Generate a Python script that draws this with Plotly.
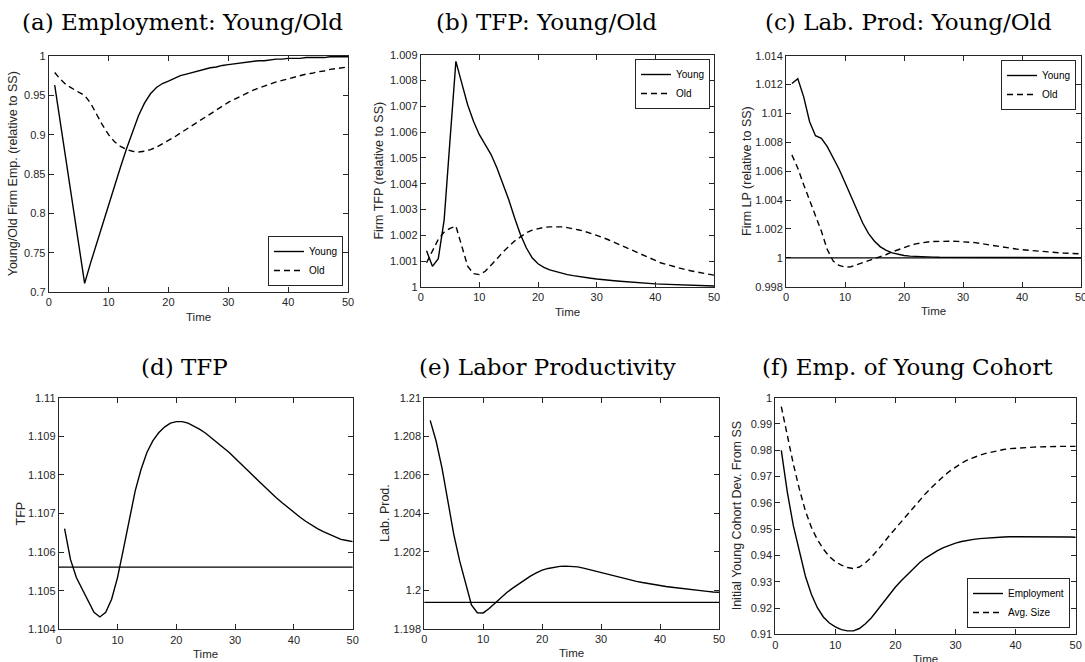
import plotly.graph_objects as go

# ---------------- data ----------------
t = list(range(1, 51))

# (a) Employment: Young/Old
emp_young = [0.963, 0.913, 0.862, 0.812, 0.761, 0.711, 0.737, 0.762, 0.787, 0.811,
             0.835, 0.859, 0.882, 0.904, 0.924, 0.940, 0.952, 0.960, 0.965, 0.968,
             0.972, 0.975, 0.977, 0.979, 0.981, 0.983, 0.985, 0.986, 0.988, 0.989,
             0.990, 0.991, 0.992, 0.993, 0.994, 0.994, 0.995, 0.996, 0.996, 0.997,
             0.997, 0.997, 0.998, 0.998, 0.998, 0.998, 0.999, 0.999, 0.999, 0.999]
emp_old = [0.979, 0.970, 0.963, 0.958, 0.954, 0.950, 0.940, 0.926, 0.912, 0.900,
           0.891, 0.885, 0.881, 0.879, 0.878, 0.879, 0.881, 0.884, 0.888, 0.892,
           0.897, 0.902, 0.907, 0.912, 0.917, 0.922, 0.927, 0.932, 0.937, 0.941,
           0.945, 0.949, 0.953, 0.956, 0.959, 0.962, 0.965, 0.967, 0.969, 0.971,
           0.973, 0.975, 0.977, 0.978, 0.980, 0.981, 0.983, 0.984, 0.985, 0.986]

# (b) TFP: Young/Old
tfp_young = [1.0014, 1.0008, 1.0011, 1.0026, 1.0057, 1.00874, 1.0079, 1.00706, 1.00642, 1.0059,
             1.00552, 1.00513, 1.00461, 1.00403, 1.00339, 1.00268, 1.00203, 1.00152, 1.00113, 1.0009,
             1.00076, 1.00066, 1.00059, 1.00053, 1.00048, 1.00044, 1.0004, 1.00037, 1.00034, 1.00031,
             1.00028, 1.00026, 1.00024, 1.00022, 1.0002, 1.00018, 1.00016, 1.00014, 1.00013, 1.00012,
             1.00011, 1.0001, 1.00009, 1.00008, 1.00007, 1.00006, 1.00005, 1.00005, 1.00004, 1.00004]
tfp_old = [1.00094, 1.0014, 1.00185, 1.00213, 1.00227, 1.00236, 1.00158, 1.00081, 1.00052, 1.00048,
           1.00061, 1.00083, 1.00109, 1.00135, 1.00158, 1.00178, 1.00194, 1.0021, 1.0022, 1.00227,
           1.00231, 1.00233, 1.00234, 1.00233, 1.0023, 1.00226, 1.00221, 1.00215, 1.00208, 1.002,
           1.00192, 1.00183, 1.00173, 1.00163, 1.00152, 1.00141, 1.00131, 1.0012, 1.0011, 1.001,
           1.00093, 1.00087, 1.0008, 1.00074, 1.00068, 1.00063, 1.00058, 1.00054, 1.0005, 1.00046]

# (c) Lab. Prod: Young/Old
lp_young = [1.01207, 1.01241, 1.01115, 1.00943, 1.00846, 1.00828, 1.0077, 1.00697, 1.00614, 1.00522,
            1.00425, 1.00329, 1.00241, 1.00168, 1.00115, 1.00076, 1.00051, 1.00034, 1.00023, 1.00016,
            1.00012, 1.00009, 1.00007, 1.00006, 1.00005, 1.00004, 1.00004, 1.00003, 1.00003, 1.00002,
            1.00002, 1.00002, 1.00002, 1.00002, 1.00002, 1.00001, 1.00001, 1.00001, 1.00001, 1.00001,
            1.00001, 1.00001, 1.00001, 1.00001, 1.00001, 1.00001, 1.00001, 1.00001, 1.00001, 1.00001]
lp_old = [1.00713, 1.00621, 1.00506, 1.00402, 1.00287, 1.00184, 1.00057, 0.99977, 0.99947, 0.99936,
          0.99938, 0.99952, 0.99966, 0.99979, 0.99993, 1.00007, 1.00023, 1.00041, 1.00057, 1.00071,
          1.00085, 1.00097, 1.00105, 1.0011, 1.00113, 1.00115, 1.00116, 1.00115, 1.00114, 1.00112,
          1.00109, 1.00105, 1.00099, 1.00092, 1.00085, 1.00079, 1.00073, 1.00067, 1.00061, 1.00056,
          1.00052, 1.00048, 1.00045, 1.00042, 1.00039, 1.00036, 1.00033, 1.00031, 1.00029, 1.00027]
lp_ss = 1.0

# (d) TFP
tfp = [1.10661, 1.10581, 1.10534, 1.10504, 1.10474, 1.10444, 1.10432, 1.10444, 1.10478, 1.10534,
       1.10607, 1.10685, 1.10758, 1.10814, 1.10858, 1.10888, 1.10909, 1.10924, 1.10934, 1.10938,
       1.10938, 1.10934, 1.10927, 1.10918, 1.10908, 1.10896, 1.10883, 1.1087, 1.10858, 1.10843,
       1.10829, 1.10814, 1.10799, 1.10784, 1.10769, 1.10754, 1.10741, 1.10728, 1.10715, 1.10702,
       1.10691, 1.1068, 1.1067, 1.10661, 1.10653, 1.10646, 1.10639, 1.10633, 1.1063, 1.10627]
tfp_ss = 1.10561

# (e) Labor Productivity
labprod = [1.20882, 1.20775, 1.20636, 1.20463, 1.2029, 1.20152, 1.20031, 1.19923, 1.19883, 1.19882,
           1.19905, 1.19934, 1.19962, 1.19988, 1.20011, 1.20033, 1.20054, 1.20073, 1.2009, 1.20104,
           1.20113, 1.2012, 1.20124, 1.20125, 1.20124, 1.20121, 1.20115, 1.20107, 1.201, 1.20093,
           1.20085, 1.20076, 1.20068, 1.2006, 1.20052, 1.20046, 1.2004, 1.20034, 1.20029, 1.20024,
           1.20019, 1.20015, 1.20011, 1.20007, 1.20003, 1.2, 1.19997, 1.19994, 1.19991, 1.19989]
labprod_ss = 1.19937

# (f) Emp. of Young Cohort
cohort_emp = [0.9800, 0.9641, 0.9513, 0.9411, 0.9322, 0.9252, 0.9201, 0.9166, 0.9143, 0.9128,
              0.9118, 0.9113, 0.9113, 0.9122, 0.9140, 0.9163, 0.9192, 0.9222, 0.9252, 0.9280,
              0.9305, 0.9328, 0.9351, 0.9372, 0.9390, 0.9405, 0.9418, 0.9430, 0.9440, 0.9447,
              0.9453, 0.9458, 0.9461, 0.9464, 0.9466, 0.9468, 0.9469, 0.9470, 0.9471, 0.9471,
              0.9472, 0.9472, 0.9472, 0.9472, 0.9472, 0.9472, 0.9472, 0.9471, 0.9470, 0.9469]
cohort_size = [0.9966, 0.9857, 0.9748, 0.9653, 0.9570, 0.9507, 0.9460, 0.9424, 0.9396, 0.9376,
               0.9363, 0.9354, 0.9350, 0.9356, 0.9372, 0.9393, 0.9419, 0.9447, 0.9476, 0.9503,
               0.9530, 0.9557, 0.9584, 0.9610, 0.9635, 0.9658, 0.9680, 0.9701, 0.9720, 0.9737,
               0.9751, 0.9763, 0.9773, 0.9781, 0.9788, 0.9794, 0.9799, 0.9803, 0.9806, 0.9808,
               0.9810, 0.9811, 0.9812, 0.9813, 0.9814, 0.9814, 0.9815, 0.9815, 0.9815, 0.9815]

titles = ["(a) Employment: Young/Old", "(b) TFP: Young/Old", "(c) Lab. Prod: Young/Old",
          "(d) TFP", "(e) Labor Productivity", "(f) Emp. of Young Cohort"]
ylabels = ["Young/Old Firm Emp. (relative to SS)", "Firm TFP (relative to SS)",
           "Firm LP (relative to SS)", "TFP", "Lab. Prod.", "Initial Young Cohort Dev. From SS"]
xlabel = "Time"
xticks = [0, 10, 20, 30, 40, 50]
yticks = [
    [0.7, 0.75, 0.8, 0.85, 0.9, 0.95, 1],
    [1, 1.001, 1.002, 1.003, 1.004, 1.005, 1.006, 1.007, 1.008, 1.009],
    [0.998, 1, 1.002, 1.004, 1.006, 1.008, 1.01, 1.012, 1.014],
    [1.104, 1.105, 1.106, 1.107, 1.108, 1.109, 1.11],
    [1.198, 1.2, 1.202, 1.204, 1.206, 1.208, 1.21],
    [0.91, 0.92, 0.93, 0.94, 0.95, 0.96, 0.97, 0.98, 0.99, 1],
]

# ---------------- layout geometry (pixels) ----------------
W, H = 1085, 662
# (left, right, top, bottom) of each plot box
boxes = [
    (48.7, 348.0, 56.0, 292.0),
    (420.7, 714.0, 54.7, 287.0),
    (786.0, 1081.0, 55.7, 286.7),
    (58.7, 352.7, 397.7, 629.3),
    (424.3, 719.0, 397.7, 628.7),
    (775.3, 1075.7, 397.7, 634.3),
]
title_pos = [(182, 22.5), (546, 22.5), (908, 22.5), (184, 366.5), (547, 366.5), (907, 366.5)]
ylab_x = [13.3, 378.7, 746.7, 20.0, 384.7, 737.3]

AX = "#262626"
tick_font = dict(family="Liberation Sans, Arial, sans-serif", size=11, color=AX)
xlab_font = dict(family="Liberation Sans, Arial, sans-serif", size=11.5, color=AX)
ylab_font = dict(family="Liberation Sans, Arial, sans-serif", size=12.5, color=AX)

fig = go.Figure()

solid = dict(color="black", width=1.4)
dashed = dict(color="black", width=1.4, dash="6px,4px")

series = [
    [("Young", emp_young, solid), ("Old", emp_old, dashed)],
    [("Young", tfp_young, solid), ("Old", tfp_old, dashed)],
    [("Young", lp_young, solid), ("Old", lp_old, dashed)],
    [("TFP", tfp, solid)],
    [("Lab. Prod.", labprod, solid)],
    [("Employment", cohort_emp, solid), ("Avg. Size", cohort_size, dashed)],
]
legend_ids = {0: "legend", 1: "legend2", 2: "legend3", 5: "legend4"}

for i, group in enumerate(series):
    xa = "x" if i == 0 else f"x{i+1}"
    ya = "y" if i == 0 else f"y{i+1}"
    for name, vals, ln in group:
        fig.add_trace(go.Scatter(
            x=t, y=vals, mode="lines", name=name, line=ln,
            xaxis=xa, yaxis=ya,
            showlegend=i in legend_ids,
            legend=legend_ids.get(i, "legend"),
            hoverinfo="skip",
        ))

# steady-state reference lines
for i, ss in [(2, lp_ss), (3, tfp_ss), (4, labprod_ss)]:
    n = i + 1
    fig.add_shape(type="line", xref=f"x{n} domain", x0=0, x1=1,
                  yref=f"y{n}", y0=ss, y1=ss,
                  line=dict(color="black", width=1.2), layer="above")

annotations = []
layout = {}
for i, (l, r, tp, b) in enumerate(boxes):
    sfx = "" if i == 0 else str(i + 1)
    ylo, yhi = yticks[i][0], yticks[i][-1]
    layout[f"xaxis{sfx}"] = dict(
        domain=[l / W, r / W], anchor=f"y{sfx}", range=[0, 50],
        tickvals=xticks, ticktext=[f"{v:g}" for v in xticks],
        ticks="inside", ticklen=5, tickwidth=1, tickcolor=AX,
        showline=True, linecolor=AX, linewidth=1, mirror="ticks",
        showgrid=False, zeroline=False, tickfont=tick_font, automargin=False,
        ticklabeloverflow="allow",
    )
    layout[f"yaxis{sfx}"] = dict(
        domain=[1 - b / H, 1 - tp / H], anchor=f"x{sfx}", range=[ylo, yhi],
        tickvals=yticks[i], ticktext=[f"{v:g}" for v in yticks[i]],
        ticks="inside", ticklen=5, tickwidth=1, tickcolor=AX,
        showline=True, linecolor=AX, linewidth=1, mirror="ticks",
        showgrid=False, zeroline=False, tickfont=tick_font, automargin=False,
    )
    # panel title
    tx, ty = title_pos[i]
    annotations.append(dict(
        text=titles[i], x=tx / W, y=1 - ty / H, xref="paper", yref="paper",
        xanchor="center", yanchor="middle", showarrow=False,
        font=dict(family="DejaVu Serif, serif", size=23, color="black"),
    ))
    # x label
    annotations.append(dict(
        text=xlabel, x=(l + r) / 2 / W, y=1 - (b + 24.5) / H, xref="paper", yref="paper",
        xanchor="center", yanchor="middle", showarrow=False, font=xlab_font,
    ))
    # y label
    annotations.append(dict(
        text=ylabels[i], x=ylab_x[i] / W, y=1 - (tp + b) / 2 / H, xref="paper", yref="paper",
        xanchor="center", yanchor="middle", showarrow=False, textangle=-90, font=ylab_font,
    ))

leg_common = dict(
    bgcolor="white", bordercolor=AX, borderwidth=1,
    font=dict(family="Liberation Sans, Arial, sans-serif", size=10, color="black"),
    tracegroupgap=0, itemwidth=30,
)
layout["legend"] = dict(x=343 / W, y=1 - 286 / H, xanchor="right", yanchor="bottom", **leg_common)
layout["legend2"] = dict(x=710 / W, y=1 - 59 / H, xanchor="right", yanchor="top", **leg_common)
layout["legend3"] = dict(x=1076 / W, y=1 - 60 / H, xanchor="right", yanchor="top", **leg_common)
layout["legend4"] = dict(x=1070 / W, y=1 - 628 / H, xanchor="right", yanchor="bottom", **leg_common)

fig.update_layout(
    width=W, height=H,
    margin=dict(l=0, r=0, t=0, b=0, autoexpand=False),
    paper_bgcolor="white", plot_bgcolor="white",
    annotations=annotations,
    **layout,
)

fig.write_html(
    "out.html",
    config={"displayModeBar": False, "staticPlot": True},
    post_script="document.body.style.margin='0';document.body.style.padding='0';"
                "document.body.style.overflow='hidden';",
)
